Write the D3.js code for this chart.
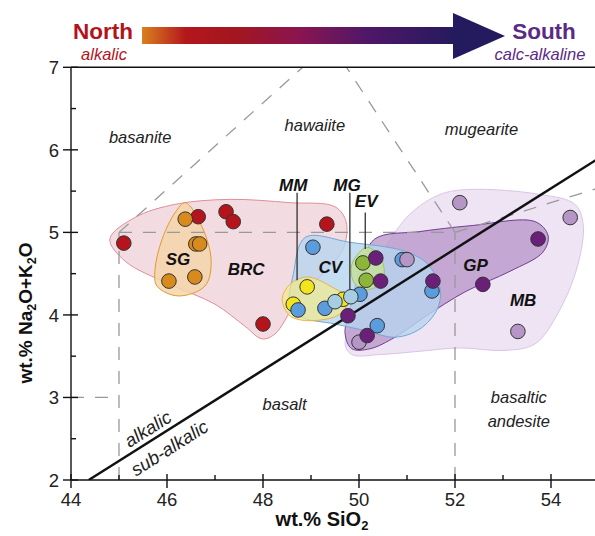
<!DOCTYPE html>
<html><head><meta charset="utf-8">
<script src="https://cdn.jsdelivr.net/npm/d3@7"></script>
<style>body{margin:0;background:#fff}text{font-family:"Liberation Sans",Arial,sans-serif}</style>
</head><body><svg id="c" width="595" height="536"></svg>
<script>
// ---------- data ----------
const xTicks=[44,46,48,50,52,54];
const xMinor=[45,47,49,51,53,55];
const yTicks=[2,3,4,5,6,7];
const yMinor=[2.5,3.5,4.5,5.5,6.5];

// sample points (SiO2, Na2O+K2O)
const brcPts=[[45.10,4.87],[46.65,5.19],[47.23,5.25],[47.38,5.13],[49.33,5.10],[48.0,3.89]];
const sgPts=[[46.38,5.16],[46.60,4.86],[46.68,4.86],[46.04,4.41],[46.58,4.46]];
const mmPts=[[48.92,4.34],[48.63,4.13],[49.67,4.19]];
const cvPts=[[49.04,4.82],[48.73,4.06],[49.29,4.08],[50.02,4.25],[50.38,3.87],[50.90,4.67],[51.52,4.29]];
const mgPts=[[49.50,4.16],[49.83,4.22]];
const evPts=[[50.08,4.63],[50.15,4.42]];
const mbPts=[[52.10,5.36],[54.40,5.18],[53.31,3.80],[51.00,4.67],[50.00,3.67]];
const gpPts=[[50.35,4.69],[50.45,4.41],[49.77,3.99],[50.17,3.75],[51.54,4.41],[52.58,4.37],[53.73,4.92]];

// field outlines (SiO2, Na2O+K2O)
const mbHull=[[51.69,5.46],[52.31,5.52],[53.77,5.46],[54.50,5.34],[54.67,5.10],[54.56,4.61],[54.19,4.07],[53.67,3.65],[53.04,3.57],[52.10,3.60],[51.27,3.56],[50.44,3.52],[49.85,3.52],[49.71,3.65],[50.02,4.07],[50.54,4.80],[51.06,5.22]];
const gpHull=[[50.33,4.92],[51.27,5.01],[52.31,5.08],[53.67,5.13],[53.94,4.96],[53.83,4.76],[53.15,4.53],[52.21,4.28],[51.38,3.98],[50.75,3.73],[50.23,3.59],[49.85,3.59],[49.71,3.77],[49.81,4.07],[50.02,4.55]];
const brcHull=[[44.81,4.92],[45.33,5.18],[46.17,5.34],[47.31,5.40],[48.56,5.36],[49.50,5.31],[49.73,5.13],[49.67,4.80],[49.23,4.49],[48.67,4.13],[48.25,3.77],[47.98,3.71],[47.63,3.86],[47.00,4.13],[46.06,4.37],[45.13,4.65]];
const sgHull=[[46.38,5.36],[46.75,5.04],[46.92,4.64],[46.79,4.35],[46.23,4.23],[45.79,4.35],[45.75,4.55],[45.90,4.92],[46.17,5.24]];
const cvHull=[[48.88,4.94],[49.81,4.88],[50.96,4.77],[51.44,4.61],[51.69,4.31],[51.63,4.07],[51.27,3.83],[50.75,3.73],[50.13,3.81],[49.50,3.89],[48.77,3.98],[48.56,4.13],[48.63,4.49]];
const mmHull=[[48.40,4.19],[48.56,4.37],[48.92,4.46],[49.40,4.35],[49.77,4.19],[49.60,4.01],[48.98,3.93],[48.56,3.99]];
const evHull=[[49.85,4.61],[50.17,4.82],[50.48,4.65],[50.50,4.43],[50.23,4.31],[49.92,4.37]];

// TAS boundaries (dashed)
const tasLines=[
  [[44,3],[45,3]],
  [[45,2],[45,5]],
  [[45,5],[52,5]],
  [[52,2],[52,5]],
  [[52,5],[57,5.9]],
  [[45,5],[49.4,7.3]],
  [[52,5],[49.4,7.3]]
];
// alkalic / sub-alkalic divide
const divideLine=[[44.37,2],[55,5.9]];

// field names
const fieldNames=[
  {t:"basanite",x:45.44,y:6.16},
  {t:"hawaiite",x:49.08,y:6.30},
  {t:"mugearite",x:52.55,y:6.25},
  {t:"basalt",x:48.45,y:2.92},
  {t:"basaltic",x:53.33,y:3.0},
  {t:"andesite",x:53.33,y:2.72}
];
const groupNames=[
  {t:"SG",x:46.23,y:4.67},{t:"BRC",x:47.65,y:4.55},{t:"CV",x:49.4,y:4.57},
  {t:"MM",x:48.63,y:5.57},{t:"MG",x:49.75,y:5.57},{t:"EV",x:50.15,y:5.38},
  {t:"GP",x:52.43,y:4.6},{t:"MB",x:53.42,y:4.17}
];
const leaders=[
  [[48.71,5.48],[48.71,4.42]],
  [[49.81,5.48],[49.81,4.27]],
  [[50.13,5.24],[50.13,4.80]]
];

// ---------- drawing ----------
const svg=d3.select("#c");
const x=d3.scaleLinear().domain([44,55]).range([71,599]);
const y=d3.scaleLinear().domain([2,7]).range([480,67.3]);

// header arrow
const defs=svg.append("defs");
const g=defs.append("linearGradient").attr("id","arr").attr("x1","0%").attr("x2","100%");
[["0%","#d9801f"],["14%","#b3171c"],["30%","#a2161f"],["50%","#8a1550"],["72%","#4f1768"],["100%","#251a5e"]]
 .forEach(s=>g.append("stop").attr("offset",s[0]).attr("stop-color",s[1]));
svg.append("rect").attr("x",142).attr("y",27).attr("width",313).attr("height",17).attr("fill","url(#arr)");
svg.append("path").attr("d","M453,13 L505,36 L453,59 Z").attr("fill","#241a5e");
svg.append("text").attr("x",103).attr("y",39).attr("text-anchor","middle").attr("font-size",22.5).attr("font-weight","bold").attr("fill","#b3141c").text("North");
svg.append("text").attr("x",104).attr("y",59.5).attr("text-anchor","middle").attr("font-size",16.5).attr("font-style","italic").attr("fill","#b3141c").text("alkalic");
svg.append("text").attr("x",544).attr("y",39).attr("text-anchor","middle").attr("font-size",22.5).attr("font-weight","bold").attr("fill","#5b2a86").text("South");
svg.append("text").attr("x",540).attr("y",59.5).attr("text-anchor","middle").attr("font-size",16.5).attr("font-style","italic").attr("fill","#5b2a86").text("calc-alkaline");

const plot=svg.append("g");
const clip=defs.append("clipPath").attr("id","pc");
clip.append("rect").attr("x",71).attr("y",67.3).attr("width",524).attr("height",412.7);

const line=d3.line().x(d=>x(d[0])).y(d=>y(d[1]));
const blob=d3.line().x(d=>x(d[0])).y(d=>y(d[1])).curve(d3.curveCatmullRomClosed.alpha(0.5));

const pg=plot.append("g").attr("clip-path","url(#pc)");
// fields
const hulls=[
  [mbHull,"#ebdff1","#d9c6e4",0.85],
  [gpHull,"#b593c7","#6e3f92",0.75],
  [brcHull,"#f0d3d9","#df8e98",0.8],
  [sgHull,"#f4d5aa","#e2982f",0.85],
  [cvHull,"#b7d4ee","#73a6da",0.8],
  [mmHull,"#f2ea8a","#e9b340",0.7],
  [evHull,"#c6df9b","#9fc46a",0.85]
];
hulls.forEach(h=>pg.append("path").attr("d",blob(h[0])).attr("fill",h[1]).attr("fill-opacity",h[3]).attr("stroke",h[2]).attr("stroke-width",1));

// TAS dashed lines
tasLines.forEach(l=>pg.append("path").attr("d",line(l)).attr("fill","none").attr("stroke","#999").attr("stroke-width",1.3).attr("stroke-dasharray","13,11"));

// divide line
pg.append("path").attr("d",line(divideLine)).attr("fill","none").attr("stroke","#111").attr("stroke-width",2.4);

// leaders
leaders.forEach(l=>pg.append("path").attr("d",line(l)).attr("stroke","#222").attr("stroke-width",1.2));

// points
const series=[
  [brcPts,"#b5141d"],[sgPts,"#d98a1c"],[mmPts,"#f3e51b"],[cvPts,"#5b9cdc"],
  [mgPts,"#a6cde2"],[evPts,"#8db53a"],[mbPts,"#b596c7"],[gpPts,"#6a1f78"]
];
series.forEach(s=>pg.selectAll(null).data(s[0]).enter().append("circle")
  .attr("cx",d=>x(d[0])).attr("cy",d=>y(d[1])).attr("r",7.3)
  .attr("fill",s[1]).attr("stroke","#333").attr("stroke-width",1));

// field names
fieldNames.forEach(f=>plot.append("text").attr("x",x(f.x)).attr("y",y(f.y)).attr("text-anchor","middle")
  .attr("dominant-baseline","central").attr("font-size",16.5).attr("font-style","italic").attr("fill","#222").text(f.t));
groupNames.forEach(f=>plot.append("text").attr("x",x(f.x)).attr("y",y(f.y)).attr("text-anchor","middle")
  .attr("dominant-baseline","central").attr("font-size",17).attr("font-weight","bold").attr("font-style","italic").attr("fill","#111").text(f.t));

// rotated alkalic labels
const ang=-Math.atan2(y(divideLine[0][1])-y(divideLine[1][1]),x(divideLine[1][0])-x(divideLine[0][0]))*180/Math.PI;
plot.append("text").attr("transform",`translate(${x(45.6)},${y(2.62)}) rotate(${ang})`).attr("text-anchor","middle")
  .attr("dominant-baseline","central").attr("font-size",18.5).attr("font-style","italic").attr("fill","#222").text("alkalic");
plot.append("text").attr("transform",`translate(${x(46.05)},${y(2.39)}) rotate(${ang})`).attr("text-anchor","middle")
  .attr("dominant-baseline","central").attr("font-size",18.5).attr("font-style","italic").attr("fill","#222").text("sub-alkalic");

// axes frame
const ax=svg.append("g").attr("stroke","#111").attr("stroke-width",1.4);
ax.append("line").attr("x1",x(44)).attr("x2",595).attr("y1",y(2)).attr("y2",y(2));
ax.append("line").attr("x1",x(44)).attr("x2",595).attr("y1",y(7)).attr("y2",y(7));
ax.append("line").attr("x1",x(44)).attr("x2",x(44)).attr("y1",y(2)).attr("y2",y(7));
xTicks.forEach(v=>ax.append("line").attr("x1",x(v)).attr("x2",x(v)).attr("y1",y(2)-6).attr("y2",y(2)+8));
xMinor.filter(v=>x(v)<595).forEach(v=>ax.append("line").attr("x1",x(v)).attr("x2",x(v)).attr("y1",y(2)-5).attr("y2",y(2)));
yTicks.forEach(v=>ax.append("line").attr("x1",x(44)-8).attr("x2",x(44)+7).attr("y1",y(v)).attr("y2",y(v)));
yMinor.forEach(v=>ax.append("line").attr("x1",x(44)).attr("x2",x(44)+5).attr("y1",y(v)).attr("y2",y(v)));

svg.selectAll(".xt").data(xTicks).enter().append("text").attr("x",d=>x(d)).attr("y",y(2)+26)
  .attr("text-anchor","middle").attr("font-size",18.5).attr("fill","#222").text(d=>d);
svg.selectAll(".yt").data(yTicks).enter().append("text").attr("x",x(44)-12).attr("y",d=>y(d)).attr("dy","0.36em")
  .attr("text-anchor","end").attr("font-size",18.5).attr("fill","#222").text(d=>d);

// axis titles
const xt=svg.append("text").attr("x",322).attr("y",526).attr("text-anchor","middle").attr("font-size",20).attr("font-weight","bold").attr("fill","#111");
xt.append("tspan").text("wt.% SiO");
xt.append("tspan").attr("font-size",13).attr("dy",4).text("2");
const yt=svg.append("text").attr("transform",`translate(32,313) rotate(-90)`).attr("text-anchor","middle").attr("font-size",19).attr("font-weight","bold").attr("fill","#111");
yt.append("tspan").text("wt.% Na");
yt.append("tspan").attr("font-size",12.5).attr("dy",4).text("2");
yt.append("tspan").attr("dy",-4).text("O+K");
yt.append("tspan").attr("font-size",12.5).attr("dy",4).text("2");
yt.append("tspan").attr("dy",-4).text("O");
</script></body></html>
